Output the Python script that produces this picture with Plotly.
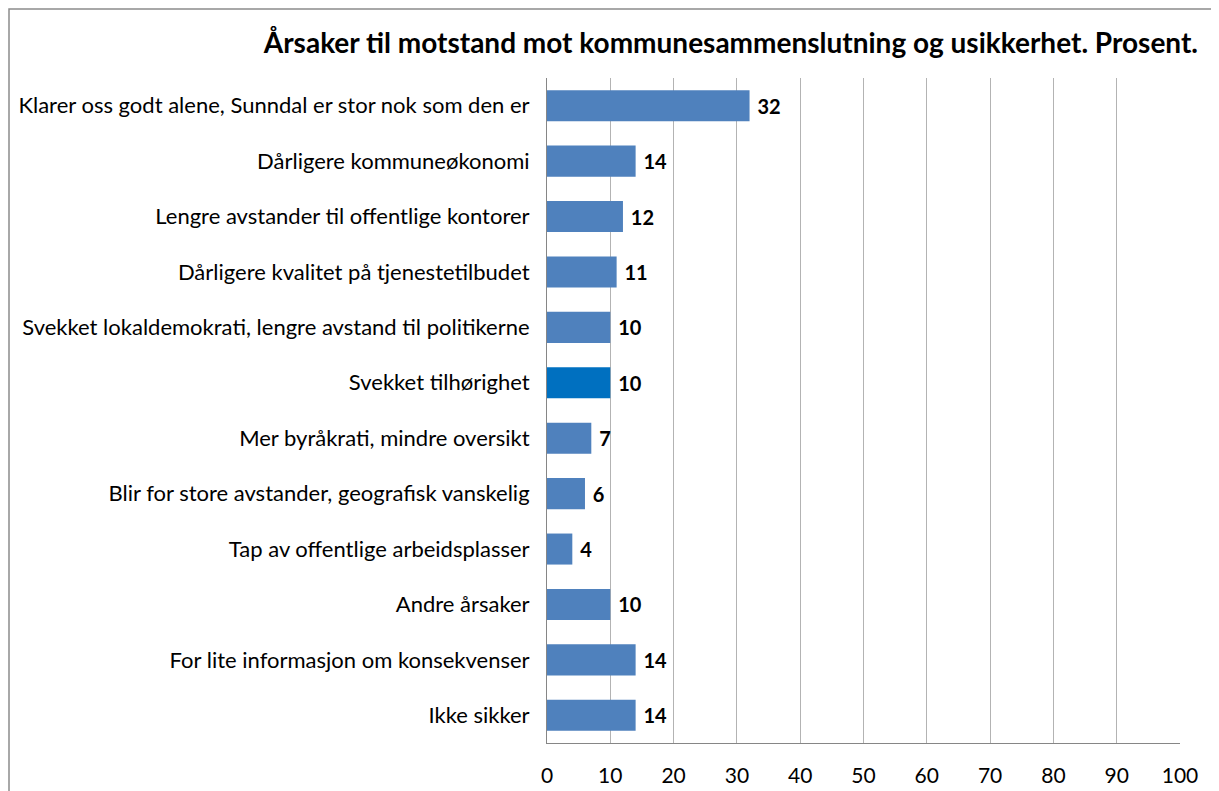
import plotly.graph_objects as go

categories = [
    "Klarer oss godt alene, Sunndal er stor nok som den er",
    "Dårligere kommuneøkonomi",
    "Lengre avstander til offentlige kontorer",
    "Dårligere kvalitet på tjenestetilbudet",
    "Svekket lokaldemokrati, lengre avstand til politikerne",
    "Svekket tilhørighet",
    "Mer byråkrati, mindre oversikt",
    "Blir for store avstander, geografisk vanskelig",
    "Tap av offentlige arbeidsplasser",
    "Andre årsaker",
    "For lite informasjon om konsekvenser",
    "Ikke sikker",
]
values = [32, 14, 12, 11, 10, 10, 7, 6, 4, 10, 14, 14]
highlight = "Svekket tilhørighet"
title_text = "Årsaker til motstand mot kommunesammenslutning og usikkerhet. Prosent."
x_ticks = [0, 10, 20, 30, 40, 50, 60, 70, 80, 90, 100]

colors = ["#0070C0" if c == highlight else "#4F81BD" for c in categories]

FONT = "Lato, Liberation Sans, Arial, sans-serif"

fig = go.Figure(go.Bar(
    y=categories, x=values, orientation="h",
    marker=dict(color=colors, line=dict(width=0)),
    text=["\u00a0" + str(v) for v in values],
    textposition="outside",
    textfont=dict(family=FONT, size=20, color="#000000", weight="bold"),
    cliponaxis=False,
))

OFF = 7  # page offset of the figure (body margin)
W, H = 1219 - 8, 791 - 8
L, R, T, B = 546 - OFF, 1179 - OFF, 77 - OFF, 742 - OFF
pw, ph = R - L, B - T

def px(x):
    return (x - L) / pw

def py(y):
    return (B - y) / ph

fig.update_layout(
    width=W, height=H,
    margin=dict(l=L, r=W - R, t=T, b=H - B, pad=0, autoexpand=False),
    paper_bgcolor="white", plot_bgcolor="white",
    bargap=0.44,
    showlegend=False,
    font=dict(family=FONT, size=22, color="#000000"),
    title=dict(
        text="<b>" + title_text + "</b>",
        x=(1197 - OFF) / W, xanchor="right", xref="container",
        y=1 - (42 - OFF) / H, yanchor="middle", yref="container",
        font=dict(family=FONT, size=28, color="#000000"),
    ),
    xaxis=dict(
        range=[0, 100], tickvals=x_ticks, ticktext=[str(t) for t in x_ticks],
        showgrid=True, gridcolor="#B3B3B3", gridwidth=1,
        showline=True, linecolor="#868686", linewidth=1,
        ticks="outside", ticklen=14, tickcolor="rgba(0,0,0,0)",
        zeroline=False, fixedrange=True, automargin=False,
        tickfont=dict(family=FONT, size=21, color="#000000"),
    ),
    yaxis=dict(
        categoryorder="array", categoryarray=categories[::-1],
        showline=True, linecolor="#868686", linewidth=1,
        ticks="outside", ticklen=12, tickcolor="rgba(0,0,0,0)",
        showgrid=False, zeroline=False, automargin=False,
        tickfont=dict(family=FONT, size=22, color="#000000"),
    ),
    shapes=[dict(
        type="rect", xref="paper", yref="paper",
        x0=px(1), x1=px(1205), y0=py(800), y1=py(1),
        line=dict(color="#8C8C8C", width=1.5), fillcolor="rgba(0,0,0,0)",
        layer="below",
    )],
)

fig.write_html("out.html")
